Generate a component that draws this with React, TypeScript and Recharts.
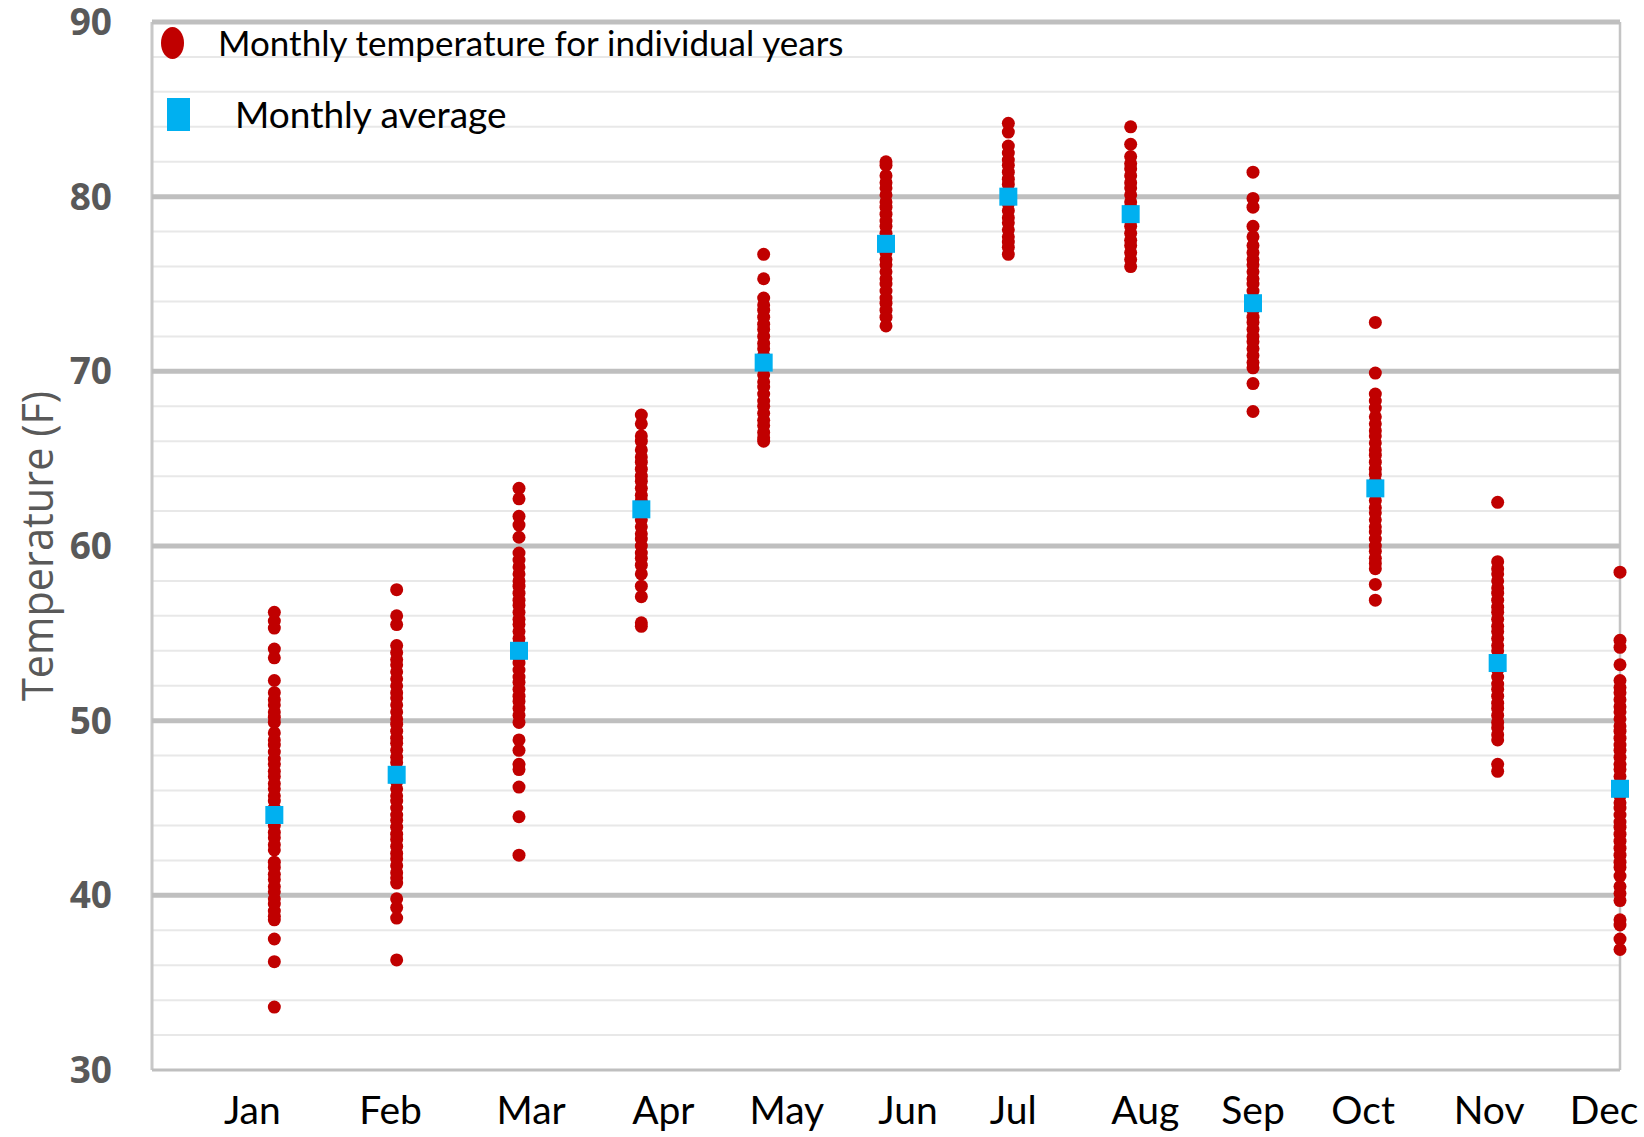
import React from "react";
import {
  ScatterChart,
  Scatter,
  XAxis,
  YAxis,
  ReferenceLine,
  Legend,
} from "recharts";

// month names and where their text labels sit on the x axis (data units)
const months = ["Jan", "Feb", "Mar", "Apr", "May", "Jun", "Jul", "Aug", "Sep", "Oct", "Nov", "Dec"];
const monthLabelAt = [0.82, 1.95, 3.1, 4.18, 5.19, 6.18, 7.04, 8.12, 9.0, 9.9, 10.93, 11.87];

// monthly temperature (F) for individual years
const jan = [56.2, 55.7, 55.3, 54.1, 53.6, 52.3, 51.6, 51.2, 50.9, 50.5, 50.2, 49.9, 49.3, 48.9, 48.6, 48.2, 47.8, 47.5, 47.1, 46.8, 46.4, 46.1, 45.7, 45.4, 45.0, 44.7, 44.3, 44.0, 43.6, 43.3, 42.9, 42.6, 41.9, 41.6, 41.2, 40.9, 40.5, 40.2, 39.8, 39.5, 39.1, 38.8, 38.6, 37.5, 36.2, 33.6];
const feb = [57.5, 56.0, 55.5, 54.3, 53.9, 53.5, 53.2, 52.8, 52.4, 52.0, 51.6, 51.3, 50.9, 50.5, 50.1, 49.8, 49.4, 49.0, 48.7, 48.3, 47.9, 47.6, 47.2, 46.8, 46.5, 46.1, 45.7, 45.4, 45.0, 44.6, 44.3, 43.9, 43.5, 43.2, 42.8, 42.4, 42.1, 41.7, 41.3, 41.0, 40.7, 39.8, 39.3, 38.7, 36.3];
const mar = [63.3, 62.7, 61.7, 61.2, 60.5, 59.6, 59.2, 58.8, 58.4, 58.0, 57.7, 57.3, 56.9, 56.6, 56.2, 55.8, 55.5, 55.1, 54.7, 54.4, 54.0, 53.6, 53.3, 52.9, 52.5, 52.2, 51.8, 51.4, 51.1, 50.7, 50.3, 49.9, 48.9, 48.3, 47.5, 47.2, 46.2, 44.5, 42.3];
const apr = [67.5, 67.0, 66.3, 66.0, 65.5, 65.1, 64.8, 64.4, 64.0, 63.7, 63.3, 62.9, 62.6, 62.2, 61.8, 61.5, 61.1, 60.7, 60.4, 60.0, 59.6, 59.3, 58.9, 58.4, 57.7, 57.1, 55.6, 55.4];
const may = [76.7, 75.3, 74.2, 73.8, 73.5, 73.1, 72.7, 72.4, 72.0, 71.6, 71.3, 70.9, 70.5, 70.2, 69.8, 69.4, 69.1, 68.7, 68.3, 68.0, 67.6, 67.2, 66.9, 66.5, 66.2, 66.0];
const jun = [82.0, 81.8, 81.2, 80.8, 80.5, 80.1, 79.7, 79.4, 79.0, 78.6, 78.3, 77.9, 77.5, 77.2, 76.8, 76.4, 76.1, 75.7, 75.3, 75.0, 74.6, 74.2, 73.9, 73.5, 73.1, 72.6];
const jul = [84.2, 83.7, 82.9, 82.5, 82.1, 81.8, 81.4, 81.0, 80.7, 80.3, 79.9, 79.6, 79.2, 78.8, 78.5, 78.1, 77.7, 77.4, 77.1, 76.7];
const aug = [84.0, 83.0, 82.3, 81.9, 81.6, 81.2, 80.8, 80.5, 80.1, 79.7, 79.4, 79.0, 78.6, 78.3, 77.9, 77.5, 77.2, 76.8, 76.4, 76.0];
const sep = [81.4, 79.9, 79.4, 78.3, 77.7, 77.2, 76.8, 76.4, 76.1, 75.7, 75.3, 75.0, 74.6, 74.2, 73.9, 73.5, 73.1, 72.8, 72.4, 72.0, 71.7, 71.3, 70.9, 70.5, 70.2, 69.3, 67.7];
const oct = [72.8, 69.9, 68.7, 68.3, 67.9, 67.4, 67.0, 66.6, 66.3, 65.9, 65.5, 65.2, 64.8, 64.4, 64.1, 63.7, 63.3, 63.0, 62.6, 62.2, 61.9, 61.5, 61.1, 60.8, 60.4, 60.0, 59.7, 59.3, 59.0, 58.7, 57.8, 56.9];
const nov = [62.5, 59.1, 58.7, 58.4, 58.0, 57.6, 57.3, 56.9, 56.5, 56.2, 55.8, 55.4, 55.1, 54.7, 54.3, 54.0, 53.6, 53.2, 52.9, 52.5, 52.1, 51.8, 51.4, 51.0, 50.7, 50.3, 49.9, 49.6, 49.2, 48.9, 47.5, 47.1];
const dec = [58.5, 54.6, 54.2, 53.2, 52.3, 51.9, 51.6, 51.2, 50.8, 50.5, 50.1, 49.7, 49.4, 49.0, 48.6, 48.3, 47.9, 47.5, 47.2, 46.8, 46.4, 46.1, 45.7, 45.3, 45.0, 44.6, 44.2, 43.9, 43.5, 43.1, 42.7, 42.3, 41.9, 41.6, 41.1, 40.5, 40.1, 39.7, 38.6, 38.3, 37.5, 36.9];

const monthlyAverage = [44.6, 46.9, 54.0, 62.1, 70.5, 77.3, 80.0, 79.0, 73.9, 63.3, 53.3, 46.1];

const majorTicks = [30, 40, 50, 60, 70, 80, 90];
const minorTicks = [32, 34, 36, 38, 42, 44, 46, 48, 52, 54, 56, 58, 62, 64, 66, 68, 72, 74, 76, 78, 82, 84, 86, 88];

const byMonth = [jan, feb, mar, apr, may, jun, jul, aug, sep, oct, nov, dec];
const yearPoints = byMonth.flatMap((temps, i) => temps.map((t) => ({ month: i + 1, temp: t })));
const averagePoints = monthlyAverage.map((t, i) => ({ month: i + 1, temp: t }));

const RED = "#C00000";
const BLUE = "#00B0F0";
const MAJOR = "#BFBFBF";
const MINOR = "#E8E8E8";

const RedDot = (props: any) => <circle cx={props.cx} cy={props.cy} r={6.5} fill={RED} />;
const BlueSquare = (props: any) => (
  <rect x={props.cx - 9} y={props.cy - 9} width={18} height={18} fill={BLUE} />
);

function LegendBox() {
  return (
    <div style={{ position: "relative", width: 900, height: 150, fontFamily: "Lato, sans-serif", color: "#000" }}>
      <div style={{ position: "absolute", left: 161, top: 27, width: 23, height: 32, borderRadius: "50%", background: RED }} />
      <div style={{ position: "absolute", left: 218, top: 25, fontSize: 35, lineHeight: "35px", whiteSpace: "nowrap" }}>
        Monthly temperature for individual years
      </div>
      <div style={{ position: "absolute", left: 167, top: 98, width: 23, height: 33, background: BLUE }} />
      <div style={{ position: "absolute", left: 235, top: 95, fontSize: 37, lineHeight: "37px", whiteSpace: "nowrap" }}>
        Monthly average
      </div>
    </div>
  );
}

function YTitle() {
  return (
    <text
      x={36}
      y={546}
      transform="rotate(-90 36 546)"
      textAnchor="middle"
      dominantBaseline="central"
      fill="#595959"
      fontSize={44}
      fontFamily="Open Sans, sans-serif"
      textLength={310}
      lengthAdjust="spacingAndGlyphs"
    >
      Temperature (F)
    </text>
  );
}

export default function App() {
  return (
    <div style={{ position: "absolute", left: 0, top: 0, background: "#fff" }}>
      <ScatterChart width={1644} height={1137} margin={{ top: 22, right: 24, left: 0, bottom: 0 }}>
        {minorTicks.map((v) => (
          <ReferenceLine key={"m" + v} y={v} stroke={MINOR} strokeWidth={2} />
        ))}
        <ReferenceLine x={0} stroke="#C8C8C8" strokeWidth={3} />
        <ReferenceLine x={12} stroke="#C4C4C4" strokeWidth={2.5} />
        {majorTicks.map((v) => (
          <ReferenceLine key={"M" + v} y={v} stroke={MAJOR} strokeWidth={v === 30 ? 3 : 5} />
        ))}
        <XAxis
          type="number"
          dataKey="month"
          domain={[0, 12]}
          ticks={monthLabelAt}
          interval={0}
          tickFormatter={(_v: number, i: number) => months[i]}
          axisLine={false}
          tickLine={false}
          tickMargin={20}
          height={67}
          tick={{ fill: "#000", fontSize: 39, fontFamily: "Lato, sans-serif" }}
        />
        <YAxis
          type="number"
          dataKey="temp"
          domain={[30, 90]}
          ticks={majorTicks}
          interval={0}
          axisLine={false}
          tickLine={false}
          tickMargin={34}
          width={152}
          tick={{ fill: "#595959", fontSize: 37, fontWeight: 700, fontFamily: "Open Sans, sans-serif" }}
          label={{ value: "Temperature (F)", content: () => <YTitle /> }}
        />
        <Scatter data={yearPoints} shape={RedDot} isAnimationActive={false} name="Monthly temperature for individual years" />
        <Scatter data={averagePoints} shape={BlueSquare} isAnimationActive={false} name="Monthly average" />
        <Legend
          layout="horizontal"
          verticalAlign="middle"
          align="center"
          content={() => <LegendBox />}
          wrapperStyle={{ left: 0, top: 0, width: 900, height: 150 }}
        />
      </ScatterChart>
    </div>
  );
}
